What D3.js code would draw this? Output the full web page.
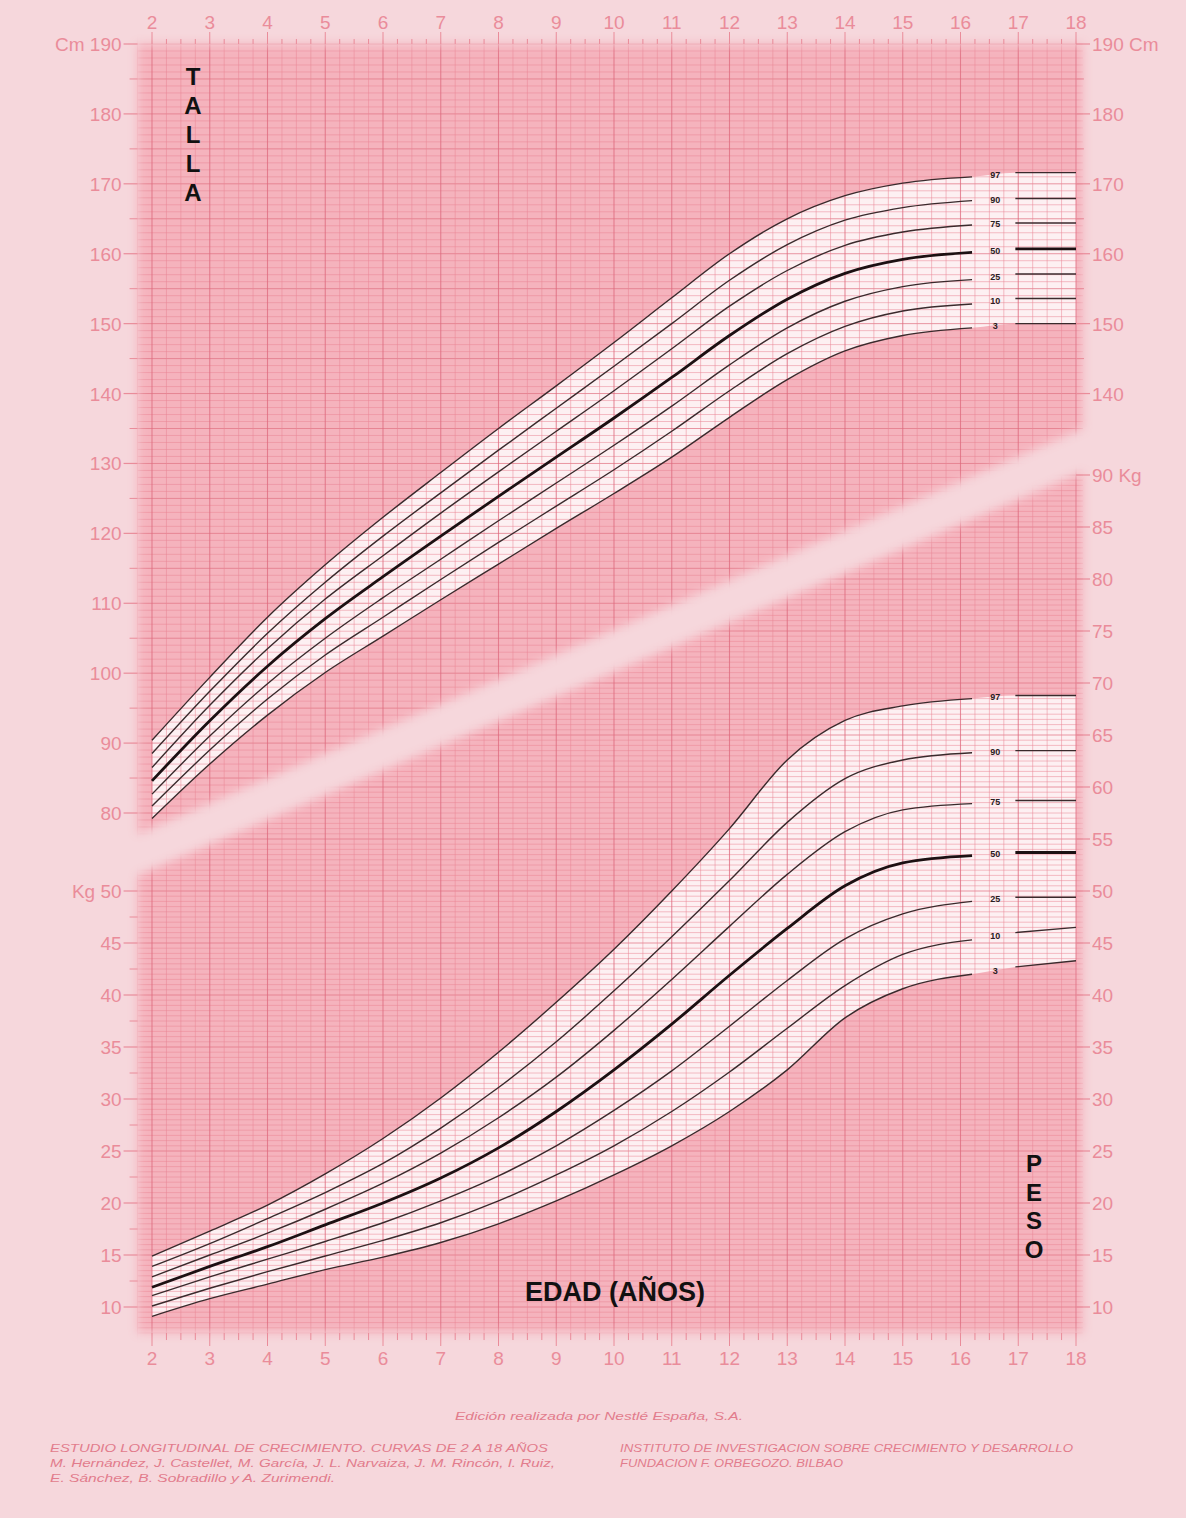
<!DOCTYPE html>
<html>
<head>
<meta charset="utf-8">
<script src="https://cdn.jsdelivr.net/npm/d3@7"></script>
<style>
  body { margin: 0; background: #f6d7dc; }
  svg { display: block; }
</style>
</head>
<body>
<div id="chart"></div>
<script>
// Ages (years) for the curves, then the short right-hand segments
const ages = [2, 3, 4, 5, 6, 7, 8, 9, 10, 11, 12, 13, 14, 15, 16.2];
const segAges = [16.95, 18];
const percentiles = ["3", "10", "25", "50", "75", "90", "97"];

// Talla (cm)
const heightP3  = [79.2, 87.0, 94.0, 100.1, 105.3, 110.5, 115.6, 120.7, 125.7, 130.9, 136.6, 142.0, 146.1, 148.3, 149.4];
const heightP10 = [81.0, 89.0, 96.3, 102.6, 108.0, 113.4, 118.7, 123.9, 129.1, 134.6, 140.4, 145.7, 149.6, 151.8, 152.8];
const heightP25 = [82.7, 91.0, 98.5, 105.0, 110.8, 116.3, 121.8, 127.2, 132.6, 138.2, 144.1, 149.4, 153.2, 155.3, 156.3];
const heightP50 = [84.6, 93.2, 101.0, 107.8, 113.8, 119.6, 125.3, 130.9, 136.5, 142.3, 148.3, 153.5, 157.2, 159.2, 160.2];
const heightP75 = [86.5, 95.4, 103.5, 110.6, 116.8, 122.9, 128.8, 134.6, 140.4, 146.4, 152.5, 157.6, 161.2, 163.1, 164.1];
const heightP90 = [88.5, 97.4, 105.7, 113.0, 119.6, 125.8, 131.9, 137.9, 143.9, 150.0, 156.2, 161.3, 164.8, 166.6, 167.6];
const heightP97 = [90.4, 99.4, 108.0, 115.5, 122.3, 128.7, 135.0, 141.1, 147.3, 153.7, 160.0, 165.0, 168.3, 170.1, 171.0];
const heightSegStart = [150.0, 153.6, 157.1, 160.7, 164.4, 167.9, 171.6];
const heightSegEnd   = [150.0, 153.6, 157.1, 160.7, 164.4, 167.9, 171.6];

// Peso (kg)
const weightP3  = [9.1, 10.8, 12.2, 13.6, 14.8, 16.2, 18.0, 20.2, 22.7, 25.5, 28.8, 32.8, 37.8, 40.6, 42.0];
const weightP10 = [10.1, 11.8, 13.4, 14.9, 16.4, 18.1, 20.2, 22.7, 25.5, 28.8, 32.6, 36.8, 40.9, 43.9, 45.3];
const weightP25 = [11.1, 12.9, 14.6, 16.3, 18.1, 20.2, 22.6, 25.5, 28.9, 32.7, 37.0, 41.4, 45.4, 47.8, 49.0];
const weightP50 = [11.9, 13.9, 15.8, 17.9, 20.0, 22.4, 25.3, 28.8, 32.8, 37.2, 41.9, 46.4, 50.5, 52.7, 53.4];
const weightP75 = [12.9, 15.0, 17.1, 19.4, 21.9, 24.8, 28.2, 32.1, 36.6, 41.5, 46.6, 51.6, 55.7, 57.8, 58.4];
const weightP90 = [13.9, 16.1, 18.5, 21.0, 23.8, 27.2, 31.1, 35.5, 40.4, 45.6, 51.0, 56.6, 60.8, 62.6, 63.3];
const weightP97 = [14.9, 17.3, 19.8, 22.8, 26.2, 30.1, 34.5, 39.3, 44.4, 50.0, 56.0, 62.6, 66.4, 67.8, 68.5];
const weightSegStart = [42.7, 46.0, 49.4, 53.7, 58.7, 63.5, 68.8];
const weightSegEnd   = [43.3, 46.5, 49.4, 53.7, 58.7, 63.5, 68.8];

// Tick labels
const ageTicks = d3.range(2, 19);
const heightLeftTicks = d3.range(80, 191, 10);
const heightRightTicks = d3.range(140, 191, 10);
const weightLeftTicks = d3.range(10, 51, 5);
const weightRightTicks = d3.range(10, 91, 5);

const heightSeries = [heightP3, heightP10, heightP25, heightP50, heightP75, heightP90, heightP97];
const weightSeries = [weightP3, weightP10, weightP25, weightP50, weightP75, weightP90, weightP97];

const width = 1186, height = 1518;
const pink = "#ea8c9a", curveColor = "#3a2a2c";

const svg = d3.select("#chart").append("svg")
  .attr("width", width)
  .attr("height", height);

const x = d3.scaleLinear().domain([2, 18]).range([152, 1076]);
const yH = d3.scaleLinear().domain([80, 190]).range([813, 44]);
const yW = d3.scaleLinear().domain([10, 90]).range([1307, 475]);

svg.append("rect").attr("width", width).attr("height", height).attr("fill", "#f6d7dc");

const defs = svg.append("defs");
defs.append("filter").attr("id", "soft")
  .attr("x", "-10%").attr("y", "-10%").attr("width", "120%").attr("height", "120%")
  .append("feGaussianBlur").attr("stdDeviation", 5);

// grid regions (upper: talla, lower: peso)
const upperPoly = [[1.75, 190], [18.12, 190], [18.12, 135.0], [1.75, 77.0]].map(d => [x(d[0]), yH(d[1])]);
const lowerPoly = [[1.75, 51.5], [18.12, 90.3], [18.12, 7.5], [1.75, 7.5]].map(d => [x(d[0]), yW(d[1])]);

function addMask(id, poly) {
  const m = defs.append("mask").attr("id", id)
    .attr("maskUnits", "userSpaceOnUse").attr("x", 0).attr("y", 0)
    .attr("width", width).attr("height", height);
  m.append("polygon")
    .attr("points", poly.map(p => p.join(",")).join(" "))
    .attr("fill", "white")
    .attr("filter", "url(#soft)");
}
addMask("mUpper", upperPoly);
addMask("mLower", lowerPoly);

function drawRegion(maskId, yScale, lo, hi, minorStep, series, segStart, segEnd) {
  const g = svg.append("g").attr("mask", `url(#${maskId})`);
  g.append("rect").attr("x", 120).attr("y", 30).attr("width", 980).attr("height", 1320)
    .attr("fill", "#f5b3bd");

  // white band between P3 and P97
  const bandAges = ages.concat(segAges);
  const bandLo = series[0].concat([segStart[0], segEnd[0]]);
  const bandHi = series[6].concat([segStart[6], segEnd[6]]);
  g.append("path")
    .datum(bandAges.map((a, i) => ({ a, lo: bandLo[i], hi: bandHi[i] })))
    .attr("fill", "#fdf0f2")
    .attr("d", d3.area().curve(d3.curveMonotoneX)
      .x(d => x(d.a)).y0(d => yScale(d.lo)).y1(d => yScale(d.hi)));

  // horizontal lines
  const hv = d3.range(lo, hi + 0.001, minorStep);
  g.selectAll(null).data(hv).join("line")
    .attr("x1", x(1.75)).attr("x2", x(18.12))
    .attr("y1", d => yScale(d)).attr("y2", d => yScale(d))
    .attr("stroke", d => Math.abs(d % 5) < 0.001 ? "#e27586" : "#ea8796")
    .attr("stroke-width", d => Math.abs(d % 5) < 0.001 ? 1.0 : 0.7)
    .attr("stroke-opacity", 0.75);

  // vertical lines every quarter year
  const vv = d3.range(1.75, 18.01, 0.25);
  g.selectAll(null).data(vv).join("line")
    .attr("x1", d => x(d)).attr("x2", d => x(d))
    .attr("y1", 30).attr("y2", 1350)
    .attr("stroke", d => Math.abs(d % 1) < 0.001 ? "#dd6a7e" : "#ea8796")
    .attr("stroke-width", d => Math.abs(d % 1) < 0.001 ? 1.1 : 0.7)
    .attr("stroke-opacity", 0.75);
}

drawRegion("mUpper", yH, 77, 190, 1, heightSeries, heightSegStart, heightSegEnd);
drawRegion("mLower", yW, 7.5, 90.5, 0.5, weightSeries, weightSegStart, weightSegEnd);

// outer ticks on age axis
svg.append("g").selectAll(null).data(d3.range(2, 18.01, 0.25)).join("line")
  .attr("x1", d => x(d)).attr("x2", d => x(d))
  .attr("y1", d => d % 1 === 0 ? 32 : 39).attr("y2", 44)
  .attr("stroke", pink).attr("stroke-width", 1);
svg.append("g").selectAll(null).data(d3.range(2, 18.01, 0.25)).join("line")
  .attr("x1", d => x(d)).attr("x2", d => x(d))
  .attr("y1", yW(7.5)).attr("y2", d => d % 1 === 0 ? yW(7.5) + 13 : yW(7.5) + 7)
  .attr("stroke", pink).attr("stroke-width", 1);

const labelFont = "'Liberation Sans', Arial, sans-serif";

function ageLabels(yPos) {
  svg.append("g").selectAll(null).data(ageTicks).join("text")
    .attr("x", d => x(d)).attr("y", yPos)
    .attr("text-anchor", "middle")
    .attr("font-family", labelFont).attr("font-size", 19)
    .attr("fill", pink)
    .text(d => d);
}
ageLabels(29);
ageLabels(1365);

// side ticks and labels
function sideTicks(values, scale, side, unit, unitValue) {
  const g = svg.append("g");
  const x0 = side === "left" ? x(1.75) : x(18);
  const dir = side === "left" ? -1 : 1;
  g.selectAll(null).data(values).join("line")
    .attr("x1", x0).attr("x2", x0 + dir * 14)
    .attr("y1", d => scale(d)).attr("y2", d => scale(d))
    .attr("stroke", pink).attr("stroke-width", 1.2);
  g.selectAll(null).data(values).join("text")
    .attr("x", x0 + dir * 16)
    .attr("y", d => scale(d) + 7)
    .attr("text-anchor", side === "left" ? "end" : "start")
    .attr("font-family", labelFont).attr("font-size", 19)
    .attr("fill", pink)
    .text(d => d === unitValue ? (side === "left" ? `${unit} ${d}` : `${d} ${unit}`) : d);
}
function minorTicks(values, scale, side) {
  const x0 = side === "left" ? x(1.75) : x(18);
  const dir = side === "left" ? -1 : 1;
  svg.append("g").selectAll(null).data(values).join("line")
    .attr("x1", x0).attr("x2", x0 + dir * 8)
    .attr("y1", d => scale(d)).attr("y2", d => scale(d))
    .attr("stroke", pink).attr("stroke-width", 1);
}
sideTicks(heightLeftTicks, yH, "left", "Cm", 190);
sideTicks(heightRightTicks, yH, "right", "Cm", 190);
minorTicks(d3.range(85, 190, 10), yH, "left");
minorTicks(d3.range(145, 190, 10), yH, "right");
sideTicks(weightLeftTicks, yW, "left", "Kg", 50);
sideTicks(weightRightTicks, yW, "right", "Kg", 90);
minorTicks(d3.range(12.5, 50, 5), yW, "left");

// percentile curves
function drawCurves(series, scale, segStart, segEnd) {
  const line = d3.line().curve(d3.curveMonotoneX).x(d => x(d[0])).y(d => scale(d[1]));
  const g = svg.append("g").attr("fill", "none");
  series.forEach((vals, i) => {
    const w = percentiles[i] === "50" ? 2.8 : 1.4;
    const c = percentiles[i] === "50" ? "#1c1012" : curveColor;
    g.append("path")
      .attr("d", line(ages.map((a, j) => [a, vals[j]])))
      .attr("stroke", c).attr("stroke-width", w);
    g.append("path")
      .attr("d", d3.line().x(d => x(d[0])).y(d => scale(d[1]))([[segAges[0], segStart[i]], [segAges[1], segEnd[i]]]))
      .attr("stroke", c).attr("stroke-width", w);
    g.append("text")
      .attr("x", x(16.6)).attr("y", scale((segStart[i] + vals[vals.length - 1]) / 2) + 3)
      .attr("text-anchor", "middle")
      .attr("font-family", labelFont).attr("font-size", 9).attr("font-weight", "bold")
      .attr("fill", "#2a2022")
      .text(percentiles[i]);
  });
}
drawCurves(heightSeries, yH, heightSegStart, heightSegEnd);
drawCurves(weightSeries, yW, weightSegStart, weightSegEnd);

// titles
const boldFont = "'Liberation Sans', Arial, sans-serif";
svg.append("g").selectAll(null).data("TALLA".split("")).join("text")
  .attr("x", 193).attr("y", (d, i) => 85 + i * 29)
  .attr("text-anchor", "middle")
  .attr("font-family", boldFont).attr("font-weight", "bold").attr("font-size", 24)
  .attr("fill", "#111").text(d => d);
svg.append("g").selectAll(null).data("PESO".split("")).join("text")
  .attr("x", 1034).attr("y", (d, i) => 1172 + i * 28.5)
  .attr("text-anchor", "middle")
  .attr("font-family", boldFont).attr("font-weight", "bold").attr("font-size", 24)
  .attr("fill", "#111").text(d => d);
svg.append("text")
  .attr("x", 615).attr("y", 1301)
  .attr("text-anchor", "middle")
  .attr("font-family", boldFont).attr("font-weight", "bold").attr("font-size", 27)
  .attr("fill", "#111").text("EDAD (AÑOS)");

// footer
const footer = [
  { t: "Edición realizada por Nestlé España, S.A.", x: 455, y: 1420, w: 288 },
  { t: "ESTUDIO LONGITUDINAL DE CRECIMIENTO. CURVAS DE 2 A 18 AÑOS", x: 50, y: 1452, w: 498 },
  { t: "M. Hernández, J. Castellet, M. García, J. L. Narvaiza, J. M. Rincón, I. Ruiz,", x: 50, y: 1467, w: 505 },
  { t: "E. Sánchez, B. Sobradillo y A. Zurimendi.", x: 50, y: 1482, w: 285 },
  { t: "INSTITUTO DE INVESTIGACION SOBRE CRECIMIENTO Y DESARROLLO", x: 620, y: 1452, w: 453 },
  { t: "FUNDACION F. ORBEGOZO. BILBAO", x: 620, y: 1467, w: 223 }
];
svg.append("g").selectAll(null).data(footer).join("text")
  .attr("x", d => d.x).attr("y", d => d.y)
  .attr("font-family", labelFont).attr("font-style", "italic").attr("font-size", 11)
  .attr("fill", "#e27c8c")
  .attr("textLength", d => d.w).attr("lengthAdjust", "spacingAndGlyphs")
  .text(d => d.t);
</script>
</body>
</html>
